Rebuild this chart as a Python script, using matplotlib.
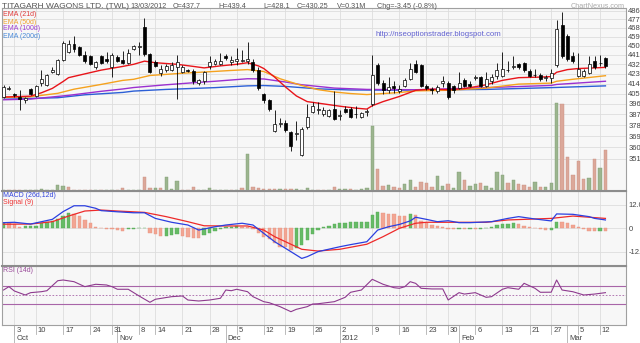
import matplotlib
matplotlib.use("Agg")
import matplotlib.pyplot as plt
from matplotlib import transforms
from matplotlib.lines import Line2D
from matplotlib.ticker import NullLocator, NullFormatter
import numpy as np

plt.rcParams['font.family'] = ['Liberation Sans', 'DejaVu Sans']

# daily OHLC, Titagarh Wagons, 29 Sep 2011 .. 13 Mar 2012
opens = [402, 409, 405, 402, 399, 409, 403, 415, 413, 425,
         423, 436, 444, 452, 449, 441, 440, 429, 440, 437,
         429, 439, 436, 433, 447, 449, 469, 442, 434, 424,
         427, 427, 429, 425, 427, 426, 415, 416, 430, 432,
         432, 440, 434, 435, 435, 435, 434, 427, 405, 399,
         373, 379, 380, 372, 371, 354, 376, 389, 391, 387,
         386, 392, 386, 392, 392, 387.5, 385, 389, 396, 431,
         415, 408, 412, 407, 412, 418, 432, 431, 412, 409,
         407, 415, 415, 412, 410, 417, 414, 419, 420, 412,
         416, 421, 421, 427, 429, 432, 433, 426, 422, 422,
         419, 419, 431, 471, 460, 440, 421, 421, 424, 435,
         433, 437.7]
highs = [413, 412, 406, 408, 402, 410, 413, 427, 423, 429,
         437, 455, 456, 460, 450, 445, 441, 435, 441, 444,
         443, 441, 445, 447, 451, 454, 478, 443, 436, 431,
         432, 434, 441, 431, 428, 428, 418, 426, 440, 437,
         443, 442, 440, 448, 446, 454, 437, 429, 406, 400,
         391, 384, 382, 373, 381, 376, 396, 398, 398, 393,
         392, 407, 391, 394, 393, 394, 389, 392, 441, 433,
         417, 420, 416, 413, 419, 433, 436, 432, 414, 411,
         413, 421, 416, 413, 425, 419, 416, 422, 421, 425,
         423, 433, 444, 435, 440, 433, 434, 428, 428, 424,
         422, 428, 476, 485, 462, 444, 443, 428, 440, 440,
         441, 439.4]
lows = [401, 408, 402, 391, 397, 404, 402, 412, 412, 424,
        422, 435, 443, 444, 440, 433, 431, 428, 432, 433,
        420, 434, 432, 432, 446, 441, 440, 424, 429, 421,
        425, 426, 400, 424, 425, 414, 413, 414, 428, 431,
        431, 436, 431, 431, 434, 432, 425, 408, 397, 390,
        372, 376, 372, 357, 366, 353, 375, 388, 387, 386,
        385, 382, 382, 388, 384, 384, 384, 386, 394, 413,
        405, 406, 406, 406, 411, 417, 424, 411, 408, 405,
        406, 411, 400, 406, 409, 411, 411, 417, 411, 411,
        414, 418, 420, 425, 428, 428, 425, 420, 420, 416,
        416, 415, 429, 438, 435, 433, 420, 420, 423, 428,
        430, 428.1]
closes = [411, 410, 404, 400, 401, 405, 412, 418, 422, 427,
          436, 453, 452, 447, 441, 435, 432, 434, 433, 435,
          441, 435, 433, 443, 450, 450, 442, 425, 430, 428,
          430, 431, 434, 429, 426, 416, 417, 425, 434, 435,
          435, 438, 436, 437, 436, 437, 427, 410, 399, 392,
          379, 380, 374, 361, 371.5, 375, 385, 394, 391.5, 391,
          391, 383, 386.5, 389, 385, 387, 388, 390, 422, 415,
          408, 411, 410, 409.5, 417, 428, 425, 412, 410, 408,
          411, 416, 402, 408, 415, 412, 412, 420, 412, 418,
          420, 427, 427.5, 426.5, 430, 429, 427, 421, 421.5, 418,
          420, 424, 467, 440, 437, 435, 428, 426, 432, 429,
          433.7, 430.25]
volume_k = [11, 8, 8, 11, 8, 11, 8, 15, 11, 11,
            43, 38, 30, 11, 11, 8, 8, 8, 8, 11,
            8, 8, 19, 11, 8, 8, 108, 19, 19, 19,
            106, 15, 76, 11, 11, 33, 11, 11, 20, 11,
            11, 11, 11, 11, 19, 282, 30, 20, 17, 13,
            15, 17, 17, 15, 15, 11, 20, 11, 11, 11,
            11, 33, 17, 13, 15, 11, 13, 19, 491, 164,
            38, 45, 30, 25, 55, 81, 33, 70, 58, 30,
            111, 38, 51, 25, 146, 85, 40, 51, 63, 38,
            25, 146, 121, 63, 83, 55, 43, 33, 70, 30,
            30, 58, 668, 660, 259, 121, 225, 88, 96, 240,
            176, 310]

# moving averages, read at points along each line
ema21_day = [0, 5, 7, 9, 11, 12, 15, 18, 22, 24, 26, 28, 32, 35, 37, 40, 43, 45, 47,
             48, 50, 52, 54, 56, 59, 62, 65, 67, 68, 70, 73, 76, 79, 82, 85, 89, 92,
             95, 99, 101, 102, 104, 106, 109, 111]
ema21_val = [402, 402.8, 405.8, 409.7, 416, 419.5, 423, 426.5, 430, 432, 435, 433.5,
             432, 430, 428.6, 430.5, 432, 433.5, 430.5, 428, 420, 411, 403, 398, 396,
             394, 392.3, 391.5, 394.4, 398, 402.5, 408, 409, 408.5, 409.5, 413, 417,
             419.5, 420, 420.5, 424.5, 427, 428, 428.6, 429.1]
ema50_day = [0, 5, 10, 13, 18, 22, 24, 27, 33, 39, 42, 45, 48, 51, 55, 58, 61, 64,
             67, 70, 73, 76, 82, 89, 95, 101, 102, 105, 111]
ema50_val = [401.6, 402.3, 405.3, 409, 413.3, 417, 418, 421.5, 423.6, 425.3, 426.2,
             427, 425.2, 418.5, 412.3, 408.6, 406.5, 405.1, 404.2, 405.1, 406, 407.5,
             408, 410, 413.6, 414.5, 416.2, 418, 421.3]
ema100_day = [0, 5, 12, 18, 22, 24, 30, 36, 39, 45, 48, 52, 55, 61, 67, 76, 89, 101,
              102, 111]
ema100_val = [399.6, 400.2, 403.5, 407.1, 409.2, 410.5, 413, 415.2, 416.2, 418.5,
              418.3, 415.5, 413, 410, 408.8, 408.5, 410.4, 412.4, 413.3, 416.2]
ema200_day = [0, 5, 10, 15, 22, 24, 30, 39, 45, 48, 52, 58, 64, 73, 89, 101, 111]
ema200_val = [401.4, 400.8, 401.4, 404, 406.1, 407.3, 408.8, 410.4, 412, 412.3,
              411.5, 409.3, 408.3, 408.1, 408.8, 410.4, 412]

macd_hist = [2.9, 2.6, 2.1, 0.9, 1.0, 1.1, 1.3, 2.6, 3.1, 3.8,
             4.6, 6.3, 7.7, 7.4, 6.3, 4.3, 2.6, 0.9, 0.3, -0.5,
             -0.6, -0.9, -1.5, -0.5, -0.3, 0.0, 0.3, -2.2, -2.9, -3.9,
             -3.8, -3.4, -3.1, -3.8, -4.3, -4.8, -5.1, -3.4, -2.2, -1.2,
             -0.3, 0.5, 0.9, 1.2, 0.9, 0.5, -0.2, -2.2, -4.3, -5.6,
             -7.7, -9.4, -9.7, -11.1, -10.3, -8.6, -6.0, -3.1, -0.9, 0.5,
             1.4, 2.1, 2.6, 2.9, 3.1, 3.2, 3.4, 3.5, 6.8, 8.2,
             7.7, 7.4, 7.2, 6.5, 6.4, 7.2, 7.0, 3.8, 2.9, 1.7,
             1.4, 0.5, -0.5, -0.6, -0.3, -0.4, -0.2, -0.3, -0.2, 0.2,
             0.9, 1.5, 2.1, 2.4, 2.5, 2.1, 1.4, 0.7, 0.2, -0.5,
             -1.0, -0.9, 3.4, 3.1, 2.6, 1.5, 0.5, -0.5, -1.2, -1.5,
             -1.2, -1.5]
macd_day = [0, 2, 5, 9, 11, 13, 15, 17, 18, 21, 24, 26, 28, 31, 34, 36, 39, 41, 44,
            46, 48, 50, 52, 55, 56, 58, 62, 64, 67, 69, 71, 73, 75, 76, 78, 80, 82,
            84, 86, 90, 93, 95, 98, 101, 102, 105, 108, 109, 111]
macd_val = [2.9, 3.1, 2.2, 4.6, 8.6, 11.6, 11.6, 10.3, 9.1, 8.5, 8.0, 8.0, 5.1, 3.1,
            1.7, -0.9, 0.8, 1.7, 2.6, 1.7, -2.6, -6.9, -10.3, -15.5, -14.6, -12, -9.5,
            -8.4, -6.9, -0.9, 0.8, 2.0, 3.8, 5.7, 4.6, 3.4, 3.9, 2.9, 2.9, 3.4, 5.1,
            6.0, 4.8, 3.8, 7.4, 7.2, 6.0, 5.1, 4.3]
signal_day = [0, 5, 9, 12, 15, 18, 21, 26, 30, 34, 37, 41, 45, 48, 50, 53, 55, 58, 62,
              67, 70, 73, 76, 78, 83, 89, 93, 96, 101, 105, 111]
signal_val = [2.1, 2.2, 3.4, 6.3, 8.9, 9.4, 8.9, 8.2, 6.0, 3.4, 1.3, 1.2, 1.2, -0.9,
              -4.3, -8.2, -10.8, -11.7, -10.8, -8.2, -4.3, 0, 2.6, 3.1, 3.1, 3.1, 4.3,
              4.6, 5.1, 6.3, 5.1]

rsi_day = [0, 1, 2, 4, 5, 7, 8, 10, 11, 13, 15, 17, 19, 20, 21, 23, 25, 27, 28, 31,
           33, 34, 36, 38, 40, 41, 42, 43, 45, 46, 48, 49, 51, 53, 54, 56, 57, 58,
           61, 63, 64, 66, 68, 70, 72, 73, 74, 75, 76, 77, 79, 81, 82, 84, 85, 87,
           89, 90, 92, 93, 95, 96, 98, 99, 101, 102, 103, 105, 107, 109, 111]
rsi_val = [60.7, 67.9, 58.6, 50, 55, 57.1, 59.2, 80.7, 82.2, 78.6, 67.9, 73, 71.5,
           67.9, 62.3, 62.3, 47.9, 34.3, 40.8, 46.4, 47.9, 39.2, 37.1, 39.2, 42.9,
           60.7, 59.2, 62.3, 57.1, 46.4, 35.6, 33.4, 24.9, 14.1, 19.2, 24.9, 30.6,
           31.2, 35.6, 45, 55.8, 60.7, 83.7, 73, 65.7, 64.4, 67.8, 78.6, 75, 64.4, 63,
           63, 39.2, 55, 52, 55, 45, 46.4, 62.3, 65.7, 62.3, 75.1, 64.4, 55.8, 56,
           82.2, 60.7, 57, 50, 52, 55]

price_ticks = [351, 360, 369, 378, 387, 396, 405, 414, 423, 432, 441, 450, 459, 468, 477, 486]
day_ticks = [2, 6, 11, 16, 20, 25, 28, 33, 38, 43, 48, 52, 57, 62, 68, 73, 78, 82, 87,
             92, 97, 101, 106, 110]
day_labels = ['3', '10', '17', '24', '31', '8', '14', '21', '28', '5', '12', '19', '26',
              '2', '9', '16', '23', '30', '6', '13', '21', '27', '5', '12']
month_ticks = [2, 21, 41, 62, 84, 104]
month_labels = ['Oct', 'Nov', 'Dec', '2012', 'Feb', 'Mar']

W, H = 640, 343
PANEL = '#f7f7f7'
GRID = '#dddddd'
SPINE = '#a0a0a0'
TXT = '#444444'


def rect(x0, y0, x1, y1):
    return [x0 / W, 1 - y1 / H, (x1 - x0) / W, (y1 - y0) / H]


def clean(ax):
    ax.tick_params(which='both', left=False, right=False, bottom=False, top=False,
                   labelleft=False, labelright=False, labelbottom=False)
    for s in ax.spines.values():
        s.set_color(SPINE)
        s.set_linewidth(0.8)


fig = plt.figure(figsize=(W / 100, H / 100), dpi=100)
fig.patch.set_facecolor('white')
n = len(closes)
x = np.arange(n)
o, h, l, c = map(np.array, (opens, highs, lows, closes))
xlim = (-0.37, 114.7)
plim = (327.0, 488.9)

# ---- price panel: background grid, volume, candles
price_rect = rect(1.5, 8, 625.5, 191)
bg = fig.add_axes(price_rect, facecolor=PANEL)
bg.set_yscale('log')
bg.set_xlim(xlim)
bg.set_ylim(plim)
for p in price_ticks:
    bg.axhline(p, color=GRID, lw=0.6)
for t in day_ticks:
    bg.axvline(t, color=GRID, lw=0.6)
clean(bg)
for s in bg.spines.values():
    s.set_visible(False)

vol = fig.add_axes(price_rect, facecolor='none')
vol.set_xlim(xlim)
vol.set_ylim(0, 1384)
vup = np.r_[True, c[1:] >= c[:-1]]
vol.bar(x, volume_k, width=0.62, color=np.where(vup, '#9cb58f', '#dba89a'),
        edgecolor=np.where(vup, '#7f9c72', '#c98f80'), lw=0.3)
vol.axis('off')

ax = fig.add_axes(price_rect, facecolor='none')
ax.set_yscale('log')
ax.set_xlim(xlim)
ax.set_ylim(plim)
ax.plot(ema200_day, ema200_val, color='#2c5fd6', lw=1.0, zorder=2)
ax.plot(ema100_day, ema100_val, color='#9b30d0', lw=1.0, zorder=2)
ax.plot(ema50_day, ema50_val, color='#f5a21e', lw=1.0, zorder=2)
ax.plot(ema21_day, ema21_val, color='#e8141a', lw=1.0, zorder=2)
up = c >= o
ax.vlines(x, l, h, color='black', lw=0.6, zorder=3)
ax.bar(x, np.maximum(np.abs(c - o), 0.4), bottom=np.minimum(o, c), width=0.55,
       color=np.where(up, 'white', 'black'), edgecolor='black', lw=0.5, zorder=4)
clean(ax)
ax.yaxis.set_minor_locator(NullLocator())
ax.yaxis.set_minor_formatter(NullFormatter())
ax.set_yticks(price_ticks)
ax.set_yticklabels([str(p) for p in price_ticks])
ax.tick_params(axis='y', right=True, labelright=True, length=0, pad=2,
               labelsize=5.5, labelcolor=TXT)

# ---- MACD panel
m = fig.add_axes(rect(1.5, 191, 625.5, 266), facecolor=PANEL)
m.set_xlim(xlim)
m.set_ylim(-19.4, 19.2)
for t in day_ticks:
    m.axvline(t, color=GRID, lw=0.6, zorder=0)
for v in (12, 0, -12):
    m.axhline(v, color=GRID, lw=0.6, zorder=0)
hist = np.array(macd_hist)
hup = np.r_[True, hist[1:] > hist[:-1]]
m.bar(x, hist, width=0.62, color=np.where(hup, '#66bb66', '#f2a593'),
      edgecolor=np.where(hup, '#55aa55', '#e8937f'), lw=0.3, zorder=2)
m.plot(signal_day, signal_val, color='#ee2a2a', lw=0.9, zorder=3)
m.plot(macd_day, macd_val, color='#2b3fe0', lw=0.9, zorder=3)
clean(m)
m.set_yticks([12, 0, -12])
m.set_yticklabels(['12.0', '0', '-12.0'])
m.tick_params(axis='y', right=True, labelright=True, length=0, pad=2,
              labelsize=5.5, labelcolor=TXT)

# ---- RSI panel
r = fig.add_axes(rect(1.5, 266, 625.5, 325), facecolor=PANEL)
r.set_xlim(xlim)
r.set_ylim(-14.5, 112.3)
for t in day_ticks:
    r.axvline(t, color=GRID, lw=0.6, zorder=0)
r.axhline(70, color='#a865a8', lw=0.8)
r.axhline(30, color='#a865a8', lw=0.8)
r.axhline(50, color='#a865a8', lw=0.6, ls=(0, (2, 2)))
r.plot(rsi_day, rsi_val, color='#8e3a8e', lw=0.8)
clean(r)

# panel separators
for yy in (191, 266):
    fig.add_artist(Line2D([1.5 / W, 625.5 / W], [1 - yy / H] * 2, color='#8c8c8c', lw=1.5))

# ---- date axis under the RSI panel
tr = transforms.blended_transform_factory(r.transData, r.transAxes)
px = 1 / 59.0
for t, lab in zip(day_ticks, day_labels):
    r.plot([t, t], [0, -9 * px], color='#b0b0b0', lw=0.6, transform=tr, clip_on=False)
    r.text(t + 0.35, -6 * px, lab, transform=tr, fontsize=5.5, color=TXT,
           ha='left', va='center')
for t, lab in zip(month_ticks, month_labels):
    r.plot([t, t], [0, -18 * px], color='#b0b0b0', lw=0.6, transform=tr, clip_on=False)
    r.text(t + 0.35, -14 * px, lab, transform=tr, fontsize=5.5, color=TXT,
           ha='left', va='center')

# ---- texts
hy = 1 - 6 / H
fig.text(2 / W, hy, 'TITAGARH WAGONS LTD. (TWL)', fontsize=6, color='#555555', va='center')
for xx, s in [(130, '13/03/2012'), (173, 'O=437.7'), (218, 'H=439.4'), (263, 'L=428.1'),
              (297, 'C=430.25'), (337, 'V=0.31M'), (377, 'Chg=-3.45 (-0.8%)')]:
    fig.text(xx / W, hy, s, fontsize=5.2, color='#555555', va='center')
fig.text(625 / W, hy, 'ChartNexus.com', fontsize=5.2, color='#aaaaaa', va='center', ha='right')
fig.text(375 / W, 1 - 35 / H, 'http://nseoptionstrader.blogspot.com', fontsize=5.6,
         color='#6060d0', va='center')

for yy, s, col in [(15, 'EMA (21d)', '#e03a3a'), (22, 'EMA (50d)', '#f0a030'),
                   (29, 'EMA (100d)', '#a040d0'), (36, 'EMA (200d)', '#4a8ad8')]:
    fig.text(3 / W, 1 - yy / H, s, fontsize=5, color=col, va='center')
fig.text(3 / W, 1 - 195.5 / H, 'MACD (26d,12d)', fontsize=5, color='#3344dd', va='center')
fig.text(3 / W, 1 - 202.5 / H, 'Signal (9)', fontsize=5, color='#ee3333', va='center')
fig.text(3 / W, 1 - 270 / H, 'RSI (14d)', fontsize=5, color='#9a4a9a', va='center')

fig.savefig('out.png', dpi=100, facecolor='white')
